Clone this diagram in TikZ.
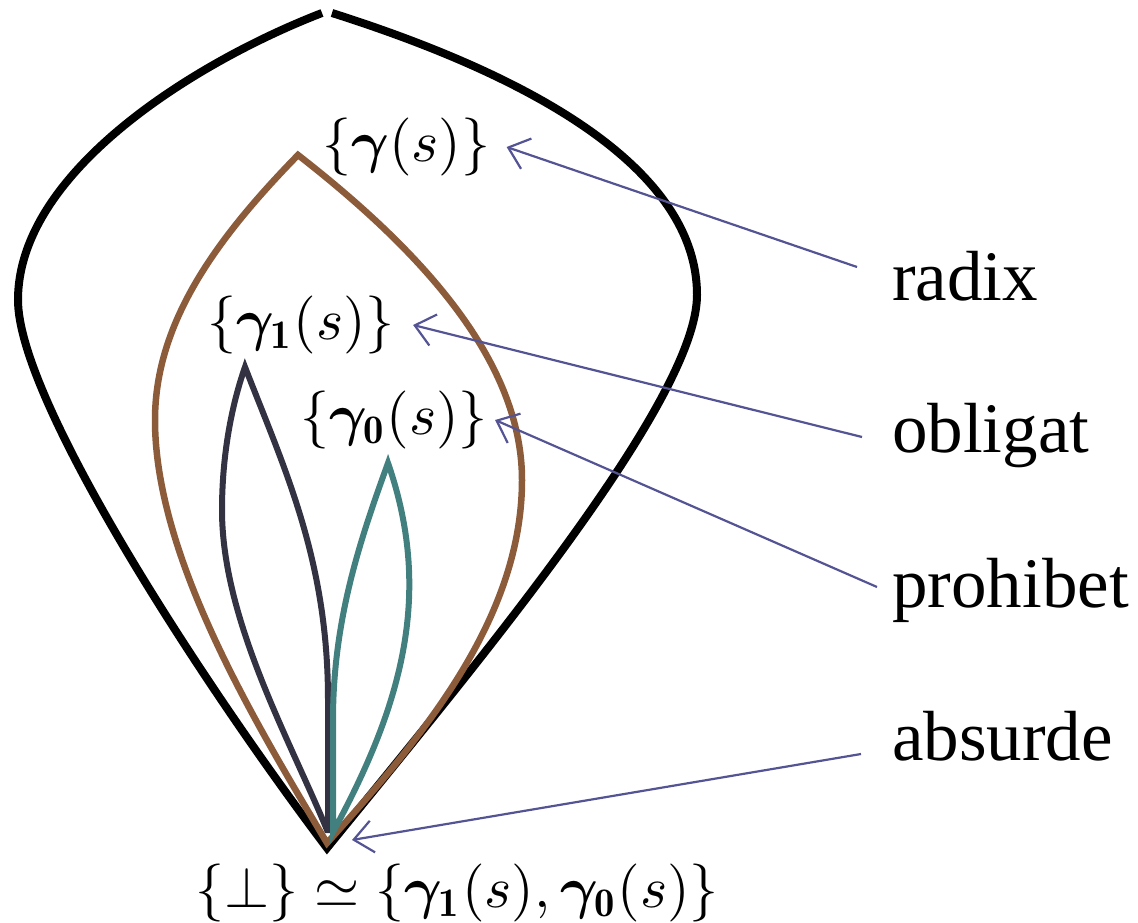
\documentclass[tikz,border=0pt]{standalone}
\usepackage{amsmath}
\usepackage{bm}
\usepackage{fontspec}
\newfontfamily\labfont{Liberation Serif}
\usetikzlibrary{arrows.meta}
\definecolor{brownc}{RGB}{140,92,58}
\definecolor{navyc}{RGB}{50,50,66}
\definecolor{tealc}{RGB}{66,128,128}
\definecolor{arrc}{RGB}{84,84,148}
\newcommand{\hugemath}[1]{\scalebox{5.8}{$#1$}}
\begin{document}
\begin{tikzpicture}[x=1pt,y=-1pt,
  outerline/.style={black,line width=8pt,line join=miter},
  brownline/.style={brownc,line width=6.5pt,line join=miter},
  navyline/.style={navyc,line width=6pt,line join=miter},
  tealline/.style={tealc,line width=6pt,line join=miter},
  arr/.style={arrc,line width=2.2pt,-{Straight Barb[length=19pt,width=32pt,line width=2.2pt]}},
  lab/.style={font=\labfont\fontsize{71}{80}\selectfont,anchor=base west,inner sep=0pt},
  mlab/.style={anchor=west,inner ysep=0pt}]
\useasboundingbox (0,0) rectangle (1138,923);

% outer black shape
\draw[outerline] (322,13) .. controls (200,60) and (18,170) .. (18,300)
  .. controls (18,400) and (200,680) .. (327,848)
  .. controls (480,660) and (697,400) .. (697,295)
  .. controls (697,150) and (480,60) .. (332,13);

% brown
\draw[brownline] (298,155) .. controls (220,235) and (155,320) .. (155,420)
  .. controls (155,560) and (260,730) .. (327,843)
  .. controls (420,740) and (522,620) .. (522,480)
  .. controls (522,360) and (420,250) .. (298,155) -- cycle;

% navy leaf
\draw[navyline] (245,367) .. controls (230,410) and (222,460) .. (222,510)
  .. controls (222,620) and (290,740) .. (327,830)
  -- (328,830) -- (328,700)
  .. controls (328,560) and (285,470) .. (245,367) -- cycle;

% teal leaf
\draw[tealline] (388,463) .. controls (360,540) and (333,620) .. (333,720)
  -- (333,832)
  .. controls (405,700) and (432,590) .. (388,463) -- cycle;

% math labels
\node[mlab,inner xsep=16pt] (g) at (306,147) {\hugemath{\{\bm{\gamma}(s)\}}};
\node[mlab,inner xsep=18pt] (g1) at (189,325) {\hugemath{\{\bm{\gamma}_{\mathbf{1}}(s)\}}};
\node[mlab,inner xsep=7pt] (g0) at (293,420) {\hugemath{\{\bm{\gamma}_{\mathbf{0}}(s)\}}};
\node[mlab,inner xsep=0pt] (bot) at (195,893) {\hugemath{\{\perp\}\simeq\{\bm{\gamma}_{\mathbf{1}}(s),\bm{\gamma}_{\mathbf{0}}(s)\}}};
\coordinate (tip) at (352,840);

% word labels
\node[lab] (radix) at (892,300) {radix};
\node[lab] (obligat) at (892,452) {obligat};
\node[lab] (prohibet) at (892,607) {prohibet};
\node[lab] (absurde) at (892,760) {absurde};

\coordinate (rS) at (857,267);
\coordinate (oS) at (862,437);
\coordinate (pS) at (877,587);
\coordinate (aS) at (861,754);

\draw[arr] (rS) -- (g.east);
\draw[arr] (oS) -- (g1.east);
\draw[arr] (pS) -- (g0.east);
\draw[arr] (aS) -- (tip);
\end{tikzpicture}
\end{document}
